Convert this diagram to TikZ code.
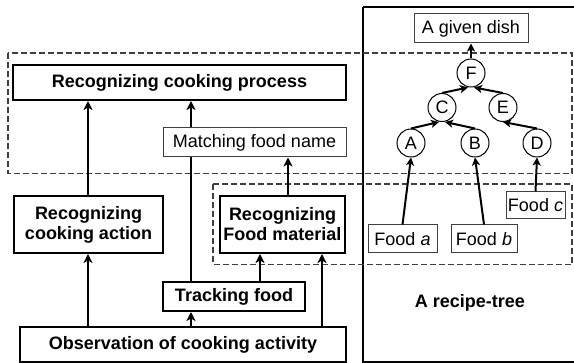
\documentclass[tikz,border=0pt]{standalone}
\usepackage{fontspec}
\setmainfont{Liberation Sans}
\usetikzlibrary{arrows.meta}
\begin{document}
\begin{tikzpicture}[x=1pt,y=-1pt,
  font=\fontsize{18}{20}\selectfont,
  bbox/.style={draw=black,line width=2pt,fill=white,inner sep=0pt,align=center,font=\fontsize{18}{20}\selectfont\bfseries},
  tbox/.style={draw=black!75,line width=1pt,fill=white,inner sep=0pt,align=center},
  cnode/.style={circle,draw=black,line width=1pt,fill=white,minimum size=28pt,inner sep=0pt},
  arr/.style={line width=2.6pt,-{Stealth[length=9pt,width=9pt,inset=2.5pt]}},
  tarr/.style={line width=2pt,-{Stealth[length=8pt,width=8pt,inset=2pt]}},
  dbox/.style={draw=black!75,line width=1.8pt,dash pattern=on 6pt off 3pt}]
\useasboundingbox (0,0) rectangle (574,363);
% recipe-tree frame
\draw[line width=2.4pt] (363,7) -- (600,7) (363,7) -- (363,362) -- (600,362);
% dashed regions
\draw[dbox] (8,53) rectangle (572,173.5);
\draw[dbox] (213,184) rectangle (572,264.5);
% left nodes
\node[bbox,minimum width=333pt,minimum height=35pt] (proc) at (179.5,82.5) {Recognizing cooking process};
\node[bbox,minimum width=149pt,minimum height=57pt] (act) at (88.5,224.5) {Recognizing\\cooking action};
\node[bbox,minimum width=125pt,minimum height=57pt] (mat) at (282.5,224.5) {Recognizing\\Food material};
\node[bbox,minimum width=142pt,minimum height=29pt] (trk) at (234,296.5) {Tracking food};
\node[bbox,minimum width=326pt,minimum height=35pt] (obs) at (183,344.5) {Observation of cooking activity};
\coordinate (xa) at (88,0);
\coordinate (xb) at (191,0);
\coordinate (xc) at (260,0);
\coordinate (xd) at (322,0);
\coordinate (xe) at (288,0);
\draw[arr] (obs.north -| xa) -- (act.south -| xa);
\draw[arr] (act.north -| xa) -- (proc.south -| xa);
\draw[arr] (obs.north -| xb) -- (trk.south -| xb);
\draw[arr] (trk.north -| xb) -- (proc.south -| xb);
\draw[arr] (trk.north -| xc) -- (mat.south -| xc);
\draw[arr] (obs.north -| xd) -- (mat.south -| xd);
\node[tbox,minimum width=183pt,minimum height=29pt] (match) at (254.5,142.5) {Matching food name};
\draw[arr] (mat.north -| xe) -- (match.south -| xe);
% recipe tree
\node[tbox,minimum width=114pt,minimum height=29pt] (dish) at (471,28.5) {A given dish};
\node[cnode] (F) at (471,73) {F};
\node[cnode] (C) at (442,107.5) {C};
\node[cnode] (E) at (503,107.5) {E};
\node[cnode] (A) at (411,143) {A};
\node[cnode] (B) at (475,143) {B};
\node[cnode] (D) at (537,143) {D};
\node[tbox,minimum width=69pt,minimum height=28pt] (fa) at (402.5,239) {Food \textit{a}};
\node[tbox,minimum width=66pt,minimum height=28pt] (fb) at (484,239) {Food \textit{b}};
\node[tbox,minimum width=59pt,minimum height=27pt] (fc) at (535.5,205.5) {Food \textit{c}};
\draw[tarr] (F.north) -- (dish.south);
\draw[tarr] (C.north) -- ([xshift=-3pt]F.south);
\draw[tarr] (E.north) -- ([xshift=3pt]F.south);
\draw[tarr] (A.north) -- ([xshift=-3pt]C.south);
\draw[tarr] (B.north) -- ([xshift=3pt]C.south);
\draw[tarr] (D.north) -- (E.south);
\draw[tarr] (fa.north) -- (A.south);
\draw[tarr] (fb.north) -- (B.south);
\draw[tarr] (fc.north) -- (D.south);
\node[font=\fontsize{18}{20}\selectfont\bfseries] (rt) at (470,303) {A recipe-tree};
\end{tikzpicture}
\end{document}
